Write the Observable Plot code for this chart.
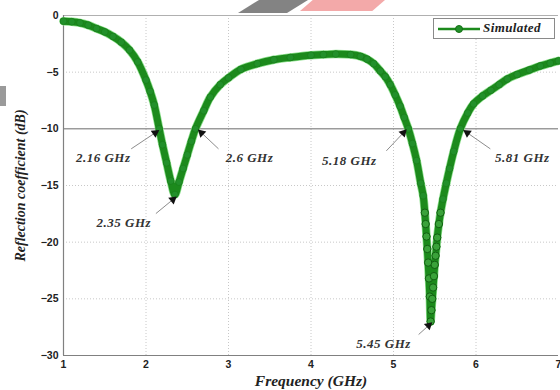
<!DOCTYPE html>
<html><head><meta charset="utf-8">
<script src="https://cdn.jsdelivr.net/npm/d3@7"></script>
<script src="https://cdn.jsdelivr.net/npm/@observablehq/plot@0.6"></script>
<style>
body{margin:0;background:#fff;}
#wrap{position:relative;width:560px;height:390px;overflow:hidden;background:#fff;}
#wrap svg{position:absolute;left:0;top:0;overflow:visible;}
.deco1{position:absolute;left:238px;top:0;width:70px;height:13px;background:#6d6d6d;clip-path:polygon(30% 0,100% 0,70% 100%,0 100%);opacity:.85}
.deco2{position:absolute;left:300px;top:0;width:85px;height:11px;background:#f2a0a0;clip-path:polygon(15% 0,100% 0,85% 100%,0 100%);opacity:.9}
.deco3{position:absolute;left:0;top:86px;width:6px;height:20px;background:#9a9a9a}
#legend{position:absolute;left:433px;top:18px;width:122px;height:21px;border:1px solid #8a8a8a;background:#fff;box-sizing:border-box;}
#legend svg{position:absolute;left:3px;top:4px;}
#legend span{position:absolute;left:49px;top:1px;font:bold italic 13px "Liberation Serif",serif;letter-spacing:0.4px;color:#222;}
</style></head><body>
<div id="wrap"></div>
<script>
// ---- data ----
const freq = [1.0,1.1,1.2,1.3,1.4,1.5,1.6,1.7,1.8,1.9,2.0,2.05,2.1,2.16,2.2,2.25,2.3,2.35,2.4,2.45,2.5,2.55,2.6,2.7,2.78,2.9,3.0,3.15,3.35,3.55,3.75,4.0,4.15,4.3,4.48,4.6,4.68,4.76,4.84,4.9,4.96,5.02,5.08,5.13,5.18,5.23,5.28,5.33,5.36,5.38,5.39,5.40,5.41,5.42,5.43,5.44,5.45,5.46,5.47,5.48,5.49,5.50,5.51,5.52,5.53,5.55,5.57,5.60,5.64,5.68,5.73,5.81,5.9,5.97,6.08,6.18,6.28,6.38,6.5,6.65,6.78,6.9,7.0];
const s11  = [-0.5,-0.55,-0.65,-0.85,-1.15,-1.45,-1.85,-2.35,-3.05,-4.1,-5.7,-6.7,-7.9,-10.0,-11.4,-13.0,-14.6,-15.8,-14.7,-13.5,-12.3,-11.1,-10.0,-8.4,-7.2,-6.1,-5.5,-4.75,-4.25,-3.9,-3.7,-3.5,-3.45,-3.4,-3.45,-3.6,-3.85,-4.25,-4.9,-5.4,-6.1,-7.0,-8.0,-9.0,-10.0,-11.3,-12.8,-14.8,-15.9,-17.4,-18.4,-19.5,-20.6,-21.8,-23.2,-24.8,-27.0,-26.0,-25.0,-24.0,-23.0,-22.0,-21.2,-20.4,-19.6,-18.4,-17.4,-16.2,-14.8,-13.5,-12.0,-10.0,-8.6,-7.8,-7.1,-6.6,-6.1,-5.6,-5.2,-4.8,-4.45,-4.2,-4.0];
const xTicks = [1,2,3,4,5,6,7];
const yTicks = [0,-5,-10,-15,-20,-25,-30];
const gridX = [2,3,4,5,6];
const gridY = [-5,-15,-20,-25];
const refLevel = [-10];
const annFreq  = [2.16, 2.6, 2.35, 5.18, 5.81, 5.45];
const annDb    = [-10, -10, -15.8, -10, -10, -27];
const annLabel = ["2.16 GHz","2.6 GHz","2.35 GHz","5.18 GHz","5.81 GHz","5.45 GHz"];
const seriesName = "Simulated";
const xLabel = "Frequency (GHz)";
const yLabel = "Reflection coefficient (dB)";

// ---- layout (pixels) ----
const W = 560, H = 390, ML = 63, MR = 2, MT = 15, MB = 35;
const kx = (7 - 1) / (W - ML - MR);      // GHz per px
const ky = (0 - (-30)) / (H - MT - MB);  // dB per px
// pixel offsets: text centre, arrow tail, arrow tip (relative to annotated point)
const textOff = [[-56,29],[54,29],[-51,28],[-59,32],[62,29],[-47,22]];
const tailOff = [[-28,20],[23,20],[-19,19],[-22,22],[30,20],[-12,13]];
const tipOff  = [[-4,4],[6,4],[-2,5],[-5,4],[7,4],[-2,4]];

const curve = freq.map((f,i)=>({f, db:s11[i]}));
const ann = annFreq.map((f,i)=>{
  const p = (o)=>({x: f + o[0]*kx, y: annDb[i] - o[1]*ky});
  const t = p(textOff[i]), a = p(tailOff[i]), b = p(tipOff[i]);
  const dxp = tipOff[i][0]-tailOff[i][0], dyp = tipOff[i][1]-tailOff[i][1];
  return {label: annLabel[i], tx:t.x, ty:t.y, ax:a.x, ay:a.y, bx:b.x, by:b.y,
          rot: Math.atan2(dxp, -dyp)*180/Math.PI};
});

const serif = '"Liberation Serif","Times New Roman",serif';
const sans = '"Liberation Sans",Arial,sans-serif';
const green = "#1c8a1c";

const plot = Plot.plot({
  width: W, height: H,
  marginLeft: ML, marginRight: MR, marginTop: MT, marginBottom: MB,
  style: {background: "transparent", fontFamily: sans},
  x: {domain: [1, 7]},
  y: {domain: [-30, 0]},
  marks: [
    Plot.ruleX(gridX, {stroke: "#c8c8c8", strokeDasharray: "1,2", strokeWidth: 1}),
    Plot.ruleY(gridY, {stroke: "#c8c8c8", strokeDasharray: "1,2", strokeWidth: 1}),
    Plot.ruleY(refLevel, {stroke: "#6a6a6a", strokeWidth: 1}),
    Plot.ruleY([0], {stroke: "#b0b0b0", strokeWidth: 1}),
    Plot.ruleY([-30], {stroke: "#808080", strokeWidth: 1.2}),
    Plot.ruleX([1], {stroke: "#808080", strokeWidth: 1.2}),
    Plot.axisX(xTicks, {tickSize: 0, tickPadding: 5, fontSize: 10.5, fontWeight: "bold", fill: "#222", label: null, fontFamily: sans}),
    Plot.axisY(yTicks, {tickSize: 0, tickPadding: 5, fontSize: 10.5, fontWeight: "bold", fill: "#222", label: null, fontFamily: sans}),
    Plot.line(curve, {x: "f", y: "db", stroke: "#8fe08f", strokeWidth: 8.5, curve: "catmull-rom"}),
    Plot.line(curve, {x: "f", y: "db", stroke: green, strokeWidth: 7, curve: "catmull-rom"}),
    Plot.dot(curve, {x: "f", y: "db", r: 3.4, fill: "#22902a", stroke: "#187a18", strokeWidth: 0.6}),
    Plot.dot(curve, {filter: d => d.db < -16.5, x: "f", y: "db", r: 3.7, fill: "#3aa23a", stroke: "#126012", strokeWidth: 1}),
    Plot.link(ann, {x1: "ax", y1: "ay", x2: "bx", y2: "by", stroke: "#8c8c8c", strokeWidth: 1}),
    Plot.dot(ann, {x: "bx", y: "by", symbol: "triangle", r: 3.2, fill: "#111", stroke: "none", rotate: "rot"}),
    Plot.text(ann, {x: "tx", y: "ty", text: "label", fontFamily: serif, fontWeight: "bold", fontStyle: "italic", fontSize: 13, fill: "#333"}),
    Plot.text([xLabel], {frameAnchor: "bottom", text: d => d, dy: 26, lineAnchor: "middle", textAnchor: "middle", fontFamily: serif, fontWeight: "bold", fontStyle: "italic", fontSize: 15.5, fill: "#222"}),
    Plot.text([yLabel], {frameAnchor: "left", text: d => d, dx: -43, rotate: -90, textAnchor: "middle", lineAnchor: "middle", fontFamily: serif, fontWeight: "bold", fontStyle: "italic", fontSize: 14, fill: "#222"})
  ]
});

const wrap = document.getElementById("wrap");
wrap.appendChild(plot);
plot.querySelectorAll("text").forEach(t => { if (annLabel.includes(t.textContent)) t.style.letterSpacing = "0.5px"; });
["deco1","deco2","deco3"].forEach(c=>{const d=document.createElement("div");d.className=c;wrap.appendChild(d);});
const lg = document.createElement("div");
lg.id = "legend";
lg.innerHTML = `<svg width="44" height="12"><line x1="1" y1="6" x2="43" y2="6" stroke="${green}" stroke-width="2.5"/><circle cx="22" cy="6" r="3.5" fill="#22902a" stroke="#137013"/></svg><span>${seriesName}</span>`;
wrap.appendChild(lg);
</script>
</body></html>
